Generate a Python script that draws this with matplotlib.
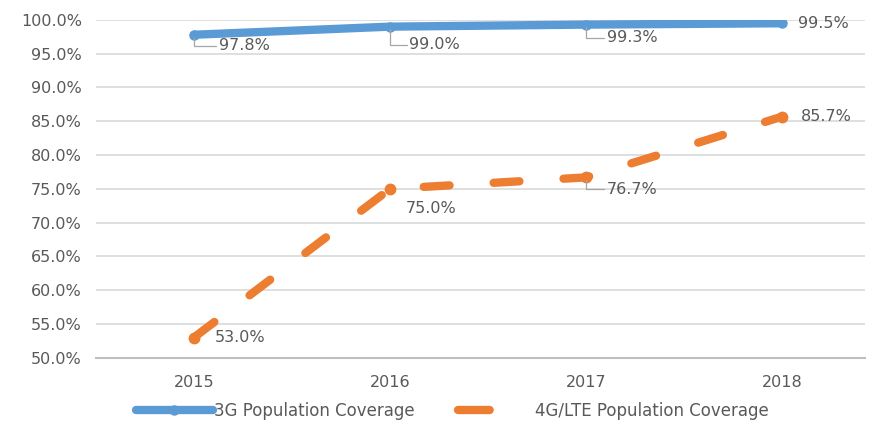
import numpy as np
import matplotlib
matplotlib.use("Agg")
from matplotlib import pyplot as plt
from matplotlib.lines import Line2D

years = ["2015", "2016", "2017", "2018"]
cov_3g = [97.8, 99.0, 99.3, 99.5]
cov_4g = [53.0, 75.0, 76.7, 85.7]
labels_3g = ["97.8%", "99.0%", "99.3%", "99.5%"]
labels_4g = ["53.0%", "75.0%", "76.7%", "85.7%"]

blue = "#5B9BD5"
orange = "#ED7D31"
txt = "#595959"
fs = 11.5

plt.rcParams["font.family"] = "DejaVu Sans"

fig = plt.figure(figsize=(8.7, 4.23), dpi=100)
ax = fig.add_axes([0.110, 0.154, 0.884, 0.799])

x = np.arange(len(years))
ax.plot(x, cov_3g, color=blue, lw=6, solid_capstyle="round",
        marker="o", ms=6.5, zorder=3)
l4, = ax.plot(x, cov_4g, color=orange, lw=6, dash_capstyle="round",
              marker="o", ms=7.5, zorder=3)
l4.set_dashes([3.1, 5.3])

ax.set_xlim(-0.5, 3.42)
ax.set_ylim(50, 100)
ax.set_yticks(np.arange(50, 100.1, 5))
ax.set_yticklabels(["%.1f%%" % v for v in np.arange(50, 100.1, 5)])
ax.set_xticks(x)
ax.set_xticklabels(years)
ax.tick_params(axis="both", length=0, labelsize=fs, labelcolor=txt)
ax.tick_params(axis="y", pad=10)
ax.tick_params(axis="x", pad=12)
ax.grid(axis="y", color="#D9D9D9", lw=1.2)
ax.set_axisbelow(True)
for s in ["top", "right", "left"]:
    ax.spines[s].set_visible(False)
ax.spines["bottom"].set_color("#BFBFBF")
ax.spines["bottom"].set_linewidth(1.5)

lead = dict(arrowstyle="-", color="#A6A6A6", lw=0.9,
            connectionstyle="angle,angleA=0,angleB=90,rad=0", shrinkA=0, shrinkB=2)
offs_3g = [(18, -8), (14, -13), (15, -9.5), (11, 0)]
offs_4g = [(15, 0), (11, -14), (15, -8.5), (13, 0)]
lead_3g = [True, True, True, False]
lead_4g = [False, False, True, False]

for i in range(4):
    ax.annotate(labels_3g[i], (x[i], cov_3g[i]), xytext=offs_3g[i],
                textcoords="offset points", ha="left", va="center",
                fontsize=fs, color=txt,
                arrowprops=lead if lead_3g[i] else None)
    ax.annotate(labels_4g[i], (x[i], cov_4g[i]), xytext=offs_4g[i],
                textcoords="offset points", ha="left", va="center",
                fontsize=fs, color=txt,
                arrowprops=lead if lead_4g[i] else None)

# legend proxies: excel shows one dash for the 4G entry
h3 = Line2D([], [], color=blue, lw=6, solid_capstyle="round", marker="o", ms=6.5)
h4 = Line2D([], [], color=orange, lw=6, dash_capstyle="round", dashes=(3.8, 12))
leg = fig.legend([h3, h4], ["3G Population Coverage", "4G/LTE Population Coverage"],
                 loc="center", bbox_to_anchor=(0.52, 0.028), ncol=2,
                 frameon=False, fontsize=12, handlelength=4.6,
                 columnspacing=2.6, handletextpad=0.05)
for t in leg.get_texts():
    t.set_color(txt)

fig.savefig("out.png", dpi=100)
